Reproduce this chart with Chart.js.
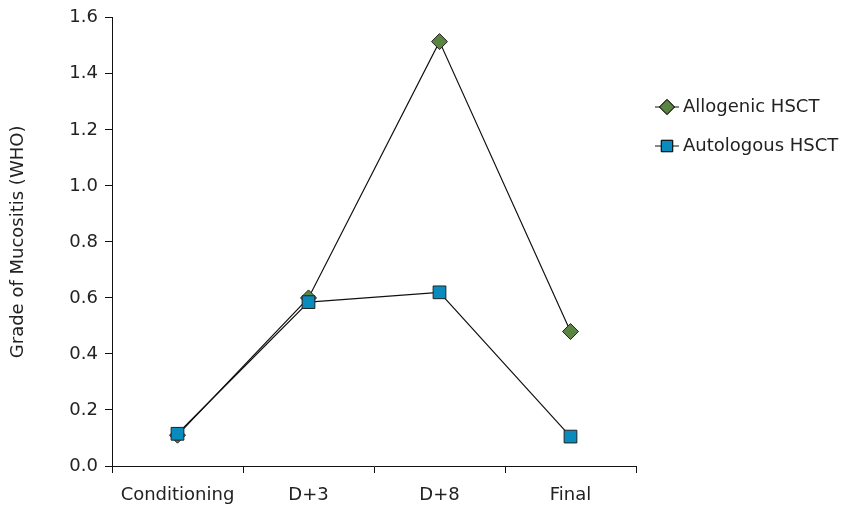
<!DOCTYPE html>
<html>
<head>
<meta charset="utf-8">
<script src="https://cdn.jsdelivr.net/npm/chart.js@4"></script>
<style>
  html, body { margin: 0; padding: 0; background: #fff; }
  #wrap { width: 855px; height: 508px; }
</style>
</head>
<body>
<div id="wrap"><canvas id="grafico" width="855" height="508"></canvas></div>
<script>
const categorias = ['Conditioning', 'D+3', 'D+8', 'Final'];
const allogenic = [0.11, 0.60, 1.515, 0.48];
const autologous = [0.115, 0.585, 0.62, 0.105];
const nombres = ['Allogenic HSCT', 'Autologous HSCT'];
const yTicks = [0, 0.2, 0.4, 0.6, 0.8, 1.0, 1.2, 1.4, 1.6];

const fuente = "'DejaVu Sans', sans-serif";
const textColor = '#222';

// leyenda dibujada a mano: línea + marcador como en el original
const leyenda = {
    id: 'leyenda',
    afterDraw(chart) {
        const ctx = chart.ctx;
        const filas = [107, 146];
        chart.data.datasets.forEach((ds, i) => {
            const y = filas[i];
            const x0 = 655, x1 = 679, cx = 667;
            ctx.save();
            ctx.strokeStyle = '#111';
            ctx.lineWidth = 1;
            ctx.beginPath();
            ctx.moveTo(x0, y);
            ctx.lineTo(x1, y);
            ctx.stroke();
            Chart.helpers.drawPoint(ctx, {
                pointStyle: ds.pointStyle,
                radius: ds.pointStyle === 'rect' ? 8 : 7.5,
                borderWidth: 1
            }, cx, y);
            ctx.fillStyle = ds.backgroundColor;
            ctx.strokeStyle = '#111';
            ctx.fill();
            ctx.stroke();
            ctx.fillStyle = textColor;
            ctx.font = '18px ' + fuente;
            ctx.textBaseline = 'middle';
            ctx.fillText(ds.label, 683, y);
            ctx.restore();
        });
    }
};

new Chart(document.getElementById('grafico'), {
    type: 'line',
    data: {
        labels: categorias,
        datasets: [{
            label: nombres[0],
            data: allogenic,
            order: 2,
            borderColor: '#111',
            borderWidth: 1.2,
            backgroundColor: '#5b8443',
            pointStyle: 'rectRot',
            pointRadius: 8,
            pointBorderColor: '#222',
            pointBorderWidth: 1,
            tension: 0
        }, {
            label: nombres[1],
            data: autologous,
            order: 1,
            borderColor: '#111',
            borderWidth: 1.2,
            backgroundColor: '#0a8bbd',
            pointStyle: 'rect',
            pointRadius: 9,
            pointBorderColor: '#222',
            pointBorderWidth: 1,
            tension: 0
        }]
    },
    options: {
        responsive: false,
        animation: false,
        layout: { padding: { top: 9, right: 219, left: 0, bottom: 0 } },
        plugins: { legend: { display: false }, tooltip: { enabled: false } },
        scales: {
            x: {
                offset: true,
                grid: { offset: true, drawOnChartArea: false, color: '#111', tickLength: 7, tickColor: '#111' },
                border: { color: '#111', width: 1 },
                ticks: { color: textColor, font: { family: fuente, size: 18 }, padding: 12 },
                afterFit(scale) { scale.height = 42; }
            },
            y: {
                min: 0,
                max: 1.6,
                afterBuildTicks(scale) { scale.ticks = yTicks.map(v => ({ value: v })); },
                grid: { drawOnChartArea: false, color: '#111', tickLength: 7, tickColor: '#111' },
                border: { color: '#111', width: 1 },
                ticks: {
                    color: textColor,
                    font: { family: fuente, size: 18 },
                    padding: 7,
                    callback: v => Number(v).toFixed(1)
                },
                title: {
                    display: true,
                    text: 'Grade of Mucositis (WHO)',
                    color: textColor,
                    font: { family: fuente, size: 18 },
                    padding: { top: 8, bottom: 0 }
                },
                afterFit(scale) { scale.width = 112; }
            }
        }
    },
    plugins: [leyenda]
});
</script>
</body>
</html>
